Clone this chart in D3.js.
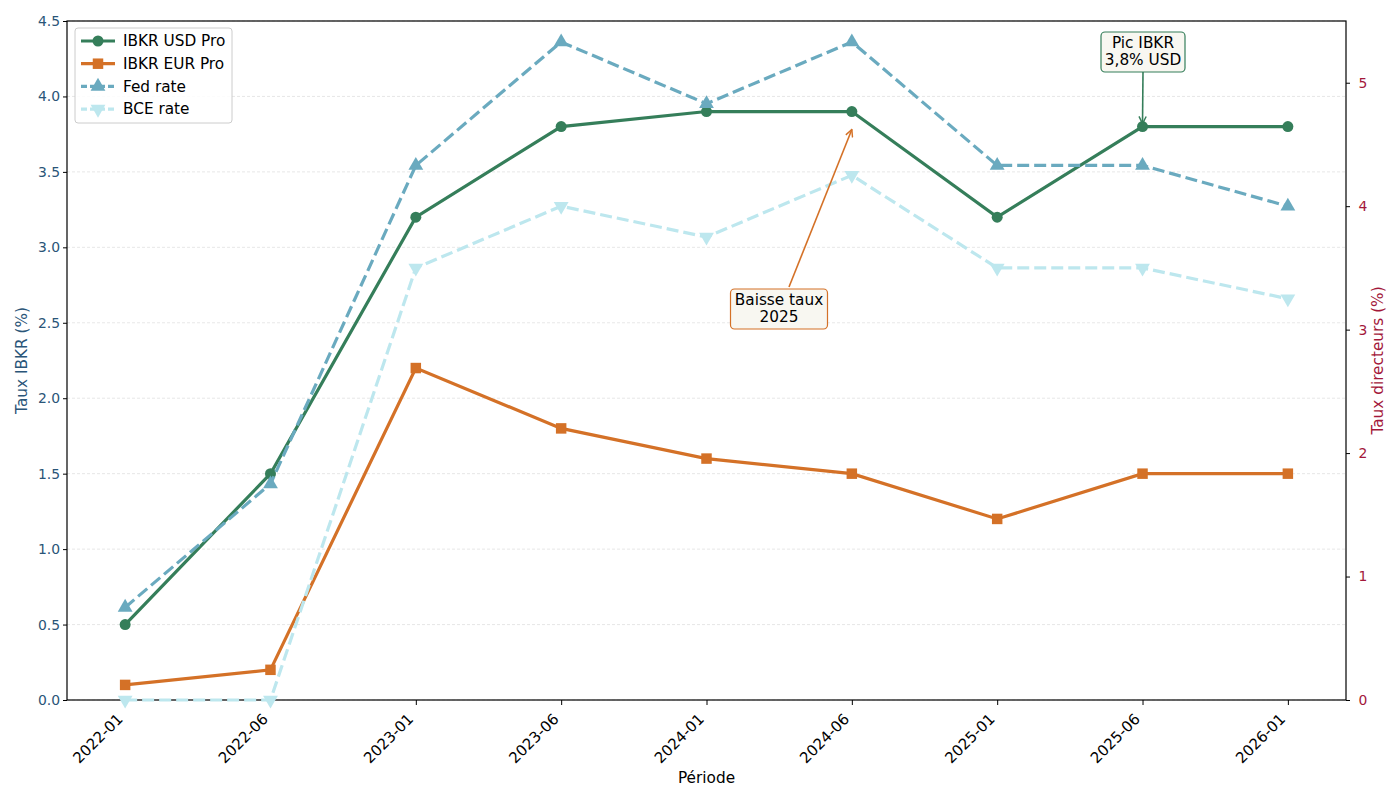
<!DOCTYPE html>
<html>
<head>
<meta charset="utf-8">
<script src="https://cdn.jsdelivr.net/npm/d3@7"></script>
<style>
  body { margin: 0; background: #fff; }
  svg, svg text { font-family: "DejaVu Sans", sans-serif; }
</style>
</head>
<body>
<svg id="chart"></svg>
<script>
// data
const periods = ["2022-01", "2022-06", "2023-01", "2023-06", "2024-01", "2024-06", "2025-01", "2025-06", "2026-01"];
const ibkrUsd = [0.5, 1.5, 3.2, 3.8, 3.9, 3.9, 3.2, 3.8, 3.8];
const ibkrEur = [0.1, 0.2, 2.2, 1.8, 1.6, 1.5, 1.2, 1.5, 1.5];
const fedRate = [0.75, 1.75, 4.33, 5.33, 4.83, 5.33, 4.33, 4.33, 4.0];
const bceRate = [0.0, 0.0, 3.5, 4.0, 3.75, 4.25, 3.5, 3.5, 3.25];
const leftTicks = [0, 0.5, 1.0, 1.5, 2.0, 2.5, 3.0, 3.5, 4.0, 4.5];
const rightTicks = [0, 1, 2, 3, 4, 5];

const width = 1400, height = 800;
const marginLeft = 67, marginRight = 54, marginTop = 21, marginBottom = 100;

const svg = d3.select("#chart").attr("width", width).attr("height", height);

const x = d3.scalePoint()
    .domain(periods)
    .range([marginLeft, width - marginRight])
    .padding(0.4);
const yL = d3.scaleLinear().domain([0, 4.5]).range([height - marginBottom, marginTop]);
const yR = d3.scaleLinear().domain([0, 5.5]).range([height - marginBottom, marginTop]);

const leftColor = "#2a5578";
const rightColor = "#a3183a";

// grid
svg.append("g")
    .selectAll("line")
    .data(leftTicks)
    .join("line")
    .attr("x1", marginLeft).attr("x2", width - marginRight)
    .attr("y1", d => yL(d)).attr("y2", d => yL(d))
    .attr("stroke", "#dddddd")
    .attr("stroke-width", 0.7)
    .attr("stroke-dasharray", "3,2");

// axes
const fmt1 = d3.format(".1f");
const gx = svg.append("g")
    .attr("transform", `translate(0,${height - marginBottom})`)
    .call(d3.axisBottom(x).tickSizeOuter(0).tickSize(5));
gx.selectAll("text")
    .attr("font-size", 15)
    .attr("fill", "#000")
    .attr("text-anchor", "end")
    .attr("x", 0).attr("y", 0).attr("dy", 0)
    .attr("transform", "translate(-2,20) rotate(-45)");

const gyL = svg.append("g")
    .attr("transform", `translate(${marginLeft},0)`)
    .call(d3.axisLeft(yL).tickValues(leftTicks).tickFormat(fmt1).tickSize(4).tickSizeOuter(0));
gyL.selectAll("text").attr("font-size", 13.9).attr("fill", leftColor);

const gyR = svg.append("g")
    .attr("transform", `translate(${width - marginRight},0)`)
    .call(d3.axisRight(yR).tickValues(rightTicks).tickFormat(d3.format("d")).tickSize(4).tickSizeOuter(0));
gyR.selectAll("text").attr("font-size", 13.9).attr("fill", rightColor).attr("dx", "0.4em");

[gx, gyL, gyR].forEach(g => {
    g.select(".domain").remove();
    g.attr("font-family", null);
});
svg.selectAll(".tick line").attr("stroke", "#000");

// frame
svg.append("rect")
    .attr("x", marginLeft).attr("y", marginTop)
    .attr("width", width - marginRight - marginLeft)
    .attr("height", height - marginBottom - marginTop)
    .attr("fill", "none").attr("stroke", "#000").attr("stroke-width", 1.2);

// axis titles
svg.append("text")
    .attr("transform", `translate(27,${(marginTop + height - marginBottom) / 2}) rotate(-90)`)
    .attr("text-anchor", "middle")
    .attr("font-size", 15.3)
    .attr("fill", leftColor)
    .text("Taux IBKR (%)");
svg.append("text")
    .attr("transform", `translate(1383,${(marginTop + height - marginBottom) / 2}) rotate(-90)`)
    .attr("text-anchor", "middle")
    .attr("font-size", 15.3)
    .attr("fill", rightColor)
    .text("Taux directeurs (%)");
svg.append("text")
    .attr("x", (marginLeft + width - marginRight) / 2)
    .attr("y", 783)
    .attr("text-anchor", "middle")
    .attr("font-size", 15.3)
    .text("Période");

// series
const series = [
    { name: "IBKR USD Pro", values: ibkrUsd, y: yL, color: "#357e5a", dash: null, marker: d3.symbolCircle, size: 95 },
    { name: "IBKR EUR Pro", values: ibkrEur, y: yL, color: "#d47127", dash: null, marker: d3.symbolSquare, size: 110 },
    { name: "Fed rate", values: fedRate, y: yR, color: "#6aaabf", dash: "12,5", marker: d3.symbolTriangle, size: 95 },
    { name: "BCE rate", values: bceRate, y: yR, color: "#bde7ee", dash: "12,5", marker: "down", size: 95 }
];

function markerPath(s) {
    if (s.marker === "down") {
        return d3.symbol(d3.symbolTriangle, s.size)();
    }
    return d3.symbol(s.marker, s.size)();
}

series.forEach(s => {
    const line = d3.line()
        .x((d, i) => x(periods[i]))
        .y(d => s.y(d));
    svg.append("path")
        .datum(s.values)
        .attr("d", line)
        .attr("fill", "none")
        .attr("stroke", s.color)
        .attr("stroke-width", 3.2)
        .attr("stroke-dasharray", s.dash);
    svg.append("g")
        .selectAll("path")
        .data(s.values)
        .join("path")
        .attr("d", markerPath(s))
        .attr("transform", (d, i) => `translate(${x(periods[i])},${s.y(d)})` + (s.marker === "down" ? " rotate(180)" : ""))
        .attr("fill", s.color);
});

// annotations
svg.append("defs").selectAll("marker")
    .data([["arrGreen", "#357e5a"], ["arrOrange", "#d47127"]])
    .join("marker")
    .attr("id", d => d[0])
    .attr("viewBox", "0 0 10 10")
    .attr("refX", 9).attr("refY", 5)
    .attr("markerWidth", 9).attr("markerHeight", 9)
    .attr("markerUnits", "userSpaceOnUse")
    .attr("orient", "auto")
    .append("path")
    .attr("d", "M1,1 L9,5 L1,9")
    .attr("fill", "none")
    .attr("stroke", d => d[1])
    .attr("stroke-width", 1.6);

const notes = [
    { lines: ["Pic IBKR", "3,8% USD"], cx: 1143, cy: 52, w: 84, h: 40, color: "#357e5a", marker: "arrGreen",
      from: [1143, 72], idx: 7, val: ibkrUsd[7], off: -3 },
    { lines: ["Baisse taux", "2025"], cx: 779, cy: 309, w: 97, h: 40, color: "#d47127", marker: "arrOrange",
      from: [789, 287], idx: 5, val: ibkrUsd[5], off: 18 }
];

notes.forEach(n => {
    const tx = x(periods[n.idx]);
    const ty = yL(n.val) + n.off;
    svg.append("line")
        .attr("x1", n.from[0]).attr("y1", n.from[1])
        .attr("x2", tx).attr("y2", ty)
        .attr("stroke", n.color).attr("stroke-width", 1.6)
        .attr("marker-end", `url(#${n.marker})`);
    svg.append("rect")
        .attr("x", n.cx - n.w / 2).attr("y", n.cy - n.h / 2)
        .attr("width", n.w).attr("height", n.h)
        .attr("rx", 4)
        .attr("fill", "#f8f7f1")
        .attr("stroke", n.color).attr("stroke-width", 1.2);
    svg.append("text")
        .attr("x", n.cx).attr("y", n.cy - 9)
        .attr("text-anchor", "middle")
        .attr("font-size", 15.3)
        .selectAll("tspan")
        .data(n.lines)
        .join("tspan")
        .attr("x", n.cx)
        .attr("dy", (d, i) => i === 0 ? "0.35em" : "1.1em")
        .text(d => d);
});

// legend
const lg = svg.append("g").attr("transform", "translate(75,28)");
lg.append("rect")
    .attr("width", 157).attr("height", 95).attr("rx", 3)
    .attr("fill", "#fff").attr("fill-opacity", 0.85)
    .attr("stroke", "#cccccc");
series.forEach((s, i) => {
    const yy = 13 + i * 22.7;
    lg.append("line")
        .attr("x1", 6).attr("x2", 40).attr("y1", yy).attr("y2", yy)
        .attr("stroke", s.color).attr("stroke-width", 3.2)
        .attr("stroke-dasharray", s.dash ? "6,3" : null);
    lg.append("path")
        .attr("d", markerPath(s))
        .attr("transform", `translate(23,${yy})` + (s.marker === "down" ? " rotate(180)" : ""))
        .attr("fill", s.color);
    lg.append("text")
        .attr("x", 48).attr("y", yy)
        .attr("dy", "0.35em")
        .attr("font-size", 15.3)
        .text(s.name);
});
</script>
</body>
</html>
